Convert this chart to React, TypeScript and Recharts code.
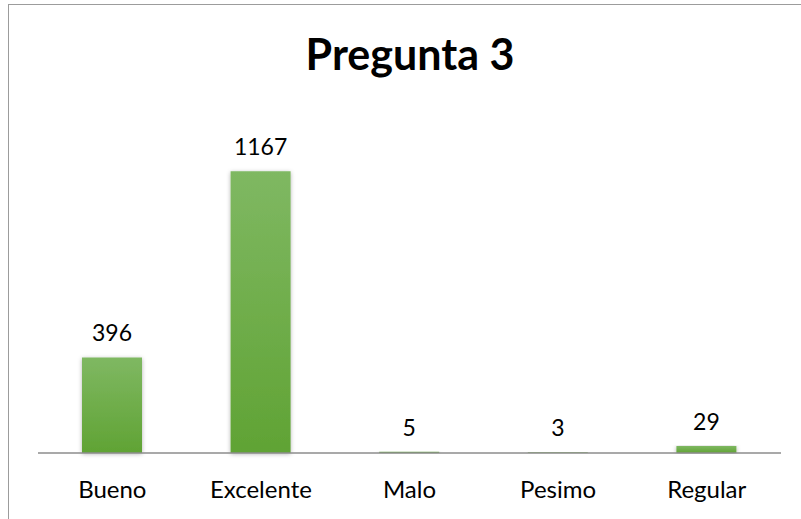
import React from "react";
import { BarChart, Bar, XAxis, YAxis, LabelList } from "recharts";

const categories = ["Bueno", "Excelente", "Malo", "Pesimo", "Regular"];
const counts = [396, 1167, 5, 3, 29];

const data = categories.map((name, i) => ({ name, value: counts[i] }));

const FONT = "Lato, 'Open Sans', sans-serif";

export default function App() {
  return (
    <div
      style={{
        position: "absolute",
        left: 0,
        top: 0,
        width: 801,
        height: 519,
        overflow: "hidden",
        background: "#fff",
        fontFamily: FONT,
      }}
    >
      {/* chart frame, only left and top edges are visible */}
      <div
        style={{
          position: "absolute",
          left: 8,
          top: 4,
          width: 830,
          height: 560,
          borderLeft: "1px solid #9c9c9c",
          borderTop: "1px solid #9c9c9c",
        }}
      />
      <div
        style={{
          position: "absolute",
          left: 0,
          width: 820,
          top: 28,
          textAlign: "center",
          fontSize: 43,
          fontWeight: 700,
          color: "#000",
          lineHeight: "52px",
        }}
      >
        Pregunta 3
      </div>
      <div style={{ position: "absolute", left: 0, top: 0 }}>
        <BarChart
          width={801}
          height={519}
          data={data}
          margin={{ top: 115, right: 20, bottom: 36, left: 38 }}
        >
          <defs>
            <linearGradient id="barFill" x1="0" y1="0" x2="0" y2="1">
              <stop offset="0%" stopColor="#7fb862" />
              <stop offset="100%" stopColor="#60a334" />
            </linearGradient>
            <filter id="shadow" x="-20%" y="-5%" width="140%" height="115%">
              <feDropShadow dx="0" dy="1" stdDeviation="2" floodColor="#000" floodOpacity="0.3" />
            </filter>
          </defs>
          <YAxis hide domain={[0, 1400]} />
          <XAxis
            dataKey="name"
            height={30}
            axisLine={{ stroke: "#8c8c8c", strokeWidth: 1.5 }}
            tickLine={false}
            tick={{ fill: "#000", fontSize: 24, fontFamily: FONT }}
            tickMargin={22}
          />
          <Bar
            dataKey="value"
            fill="url(#barFill)"
            barSize={60}
            filter="url(#shadow)"
            isAnimationActive={false}
          >
            <LabelList
              dataKey="value"
              position="top"
              offset={16}
              style={{ fill: "#000", fontSize: 23, fontFamily: FONT }}
            />
          </Bar>
        </BarChart>
      </div>
    </div>
  );
}
